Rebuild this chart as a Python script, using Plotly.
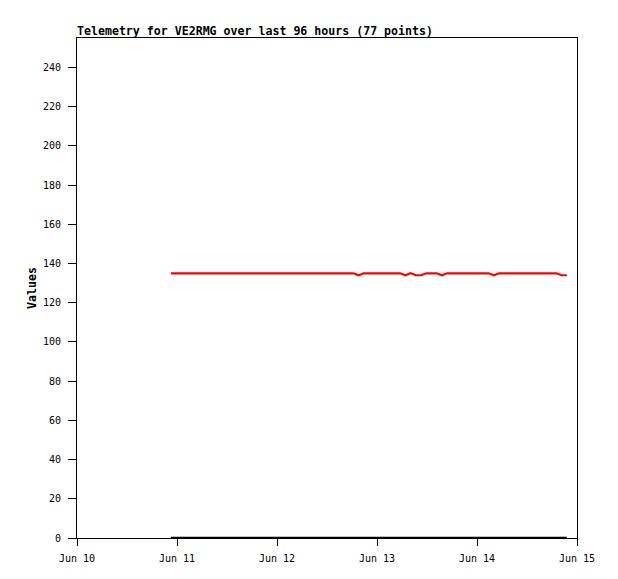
import pandas as pd
import plotly.graph_objects as go

title_text = "Telemetry for VE2RMG over last 96 hours (77 points)"
y_label = "Values"

start_time = "2024-06-10 22:34"
n_points = 77
interval = "75min"

# Channel 1 (red) values
red_values = [
    135, 135, 135, 135, 135, 135, 135, 135, 135, 135,
    135, 135, 135, 135, 135, 135, 135, 135, 135, 135,
    135, 135, 135, 135, 135, 135, 135, 135, 135, 135,
    135, 135, 135, 135, 135, 135, 134, 135, 135, 135,
    135, 135, 135, 135, 135, 134, 135, 134, 134, 135,
    135, 135, 134, 135, 135, 135, 135, 135, 135, 135,
    135, 135, 134, 135, 135, 135, 135, 135, 135, 135,
    135, 135, 135, 135, 135, 134, 134,
]
# Channel 2 (black) values
black_values = [0] * 77

x_range = ["2024-06-10", "2024-06-15"]
y_range = [0, 255]

times = pd.date_range(start=start_time, periods=n_points, freq=interval)

# page body has an 8px margin; figure sized to compensate
W, H = 610, 571
ML, MT = 69, 30

fig = go.Figure()
fig.add_trace(go.Scatter(x=times, y=black_values, mode="lines",
                         line=dict(color="#000000", width=2.5), showlegend=False))
fig.add_trace(go.Scatter(x=times, y=red_values, mode="lines",
                         line=dict(color="#ff0000", width=2.2), showlegend=False))

tick_font = dict(family="DejaVu Sans Mono", size=10, color="#000000")

fig.update_layout(
    width=W, height=H,
    margin=dict(l=ML, r=41, t=MT, b=41),
    paper_bgcolor="white", plot_bgcolor="white",
    showlegend=False,
    title=dict(text="<b>" + title_text + "</b>", x=ML / W, xref="container",
               xanchor="left", y=1 - 23 / H, yref="container", yanchor="middle",
               font=dict(family="DejaVu Sans Mono", size=11.6, color="#000000")),
    annotations=[dict(text="<b>" + y_label + "</b>", textangle=-90,
                      xref="paper", yref="paper", x=(32 - 77) / 500, y=0.5,
                      xanchor="center", yanchor="middle", showarrow=False,
                      font=dict(family="DejaVu Sans Mono", size=11.6, color="#000000"))],
)
fig.update_xaxes(range=x_range, type="date", dtick=86400000, tick0="2024-06-10",
                 tickformat="%b %d", showgrid=False, zeroline=False,
                 showline=True, linecolor="#000000", linewidth=1, mirror=True,
                 ticks="outside", ticklen=7, tickcolor="#000000",
                 tickfont=tick_font, ticklabelstandoff=4)
fig.update_yaxes(range=y_range, dtick=20, tick0=0, showgrid=False, zeroline=False,
                 showline=True, linecolor="#000000", linewidth=1, mirror=True,
                 ticks="outside", ticklen=8, tickcolor="#000000",
                 tickfont=tick_font, ticklabelstandoff=5)

fig.write_html("out.html")
